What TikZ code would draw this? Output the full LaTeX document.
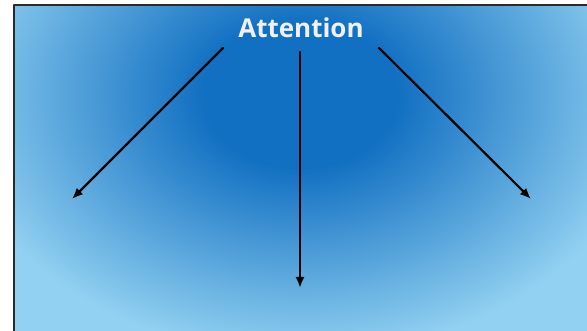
\documentclass[tikz,border=0pt]{standalone}
\usepackage{fontspec}
\setmainfont{Open Sans}
\usetikzlibrary{arrows.meta,calc}

\definecolor{deepblue}{HTML}{1270C2}
\definecolor{paleblue}{HTML}{92D1F1}
\definecolor{framegray}{HTML}{2A2A2A}

\pgfdeclareradialshading{glow}{\pgfpoint{0bp}{0bp}}{%
    color(0bp)=(deepblue); color(7bp)=(deepblue);
    color(25bp)=(paleblue); color(50bp)=(paleblue)}

\begin{document}
\begin{tikzpicture}[
    x=1pt,
    y=-1pt,
    >={Latex[length=11pt,width=9pt]},
    line cap=round,
    line join=round,
    font=\bfseries
]

% -----------------------
% Canvas
% -----------------------
\useasboundingbox (0,0) rectangle (587,331);

% -----------------------
% Background glow
% -----------------------
\begin{scope}
    \clip (14,5) rectangle (587,331);
    \fill[paleblue] (14,5) rectangle (587,331);
    \shade[shading=glow]
        (300-350,95-260) rectangle (300+350,95+260);
\end{scope}

% -----------------------
% Frame
% -----------------------
\draw[framegray, line width=1.6pt, line cap=butt] (14,331) -- (14,5) -- (587,5);

% -----------------------
% Title
% -----------------------
\node[text=white!94!blue, font=\fontsize{26}{30}\selectfont\bfseries] (attn) at (301,28) {Attention};

% -----------------------
% Coordinates
% -----------------------
\coordinate (Lstart) at (223,48);
\coordinate (Lend)   at (72,199);
\coordinate (Cstart) at (300,52);
\coordinate (Cend)   at (300,288);
\coordinate (Rstart) at (379,48);
\coordinate (Rend)   at (531,199);

% -----------------------
% Arrows
% -----------------------
\draw[->, line width=2.2pt] (Lstart) -- (Lend);
\draw[->, line width=2.2pt] (Cstart) -- (Cend);
\draw[->, line width=2.2pt] (Rstart) -- (Rend);

\end{tikzpicture}
\end{document}
